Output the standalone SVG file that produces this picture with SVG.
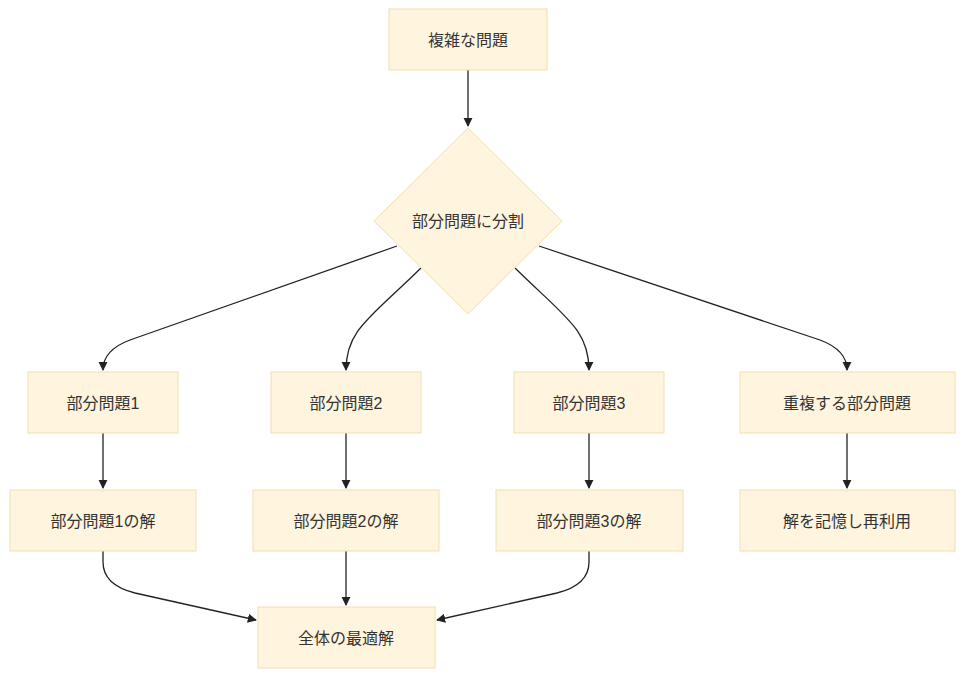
<svg xmlns="http://www.w3.org/2000/svg" width="972" height="686" viewBox="0 0 972 686">
<style>
.n{fill:#FFF4DD;stroke:#F0DFB0;stroke-width:1}
.t{font-family:"Liberation Sans","Noto Sans CJK JP",sans-serif;font-size:16px;fill:#333;text-anchor:middle;dominant-baseline:central}
.e{fill:none;stroke:#222;stroke-width:1.3;marker-end:url(#a)}
</style>
<defs><marker id="a" viewBox="0 0 10 10" refX="9" refY="5" markerWidth="7" markerHeight="7" orient="auto"><path d="M0,0L10,5L0,10z" fill="#222"/></marker></defs>
<rect width="972" height="686" fill="#fff"/>
<g id="edges">
<path class="e" d="M468,70V126"/>
<path class="e" d="M397,246L130,340Q103,350 103,370"/>
<path class="e" d="M421,268C370,318 346,330 346,370"/>
<path class="e" d="M515,268C566,318 589,330 589,370"/>
<path class="e" d="M539,246L820,340Q847,350 847,370"/>
<path class="e" d="M103,433V488"/>
<path class="e" d="M346,433V488"/>
<path class="e" d="M589,433V488"/>
<path class="e" d="M847,433V488"/>
<path class="e" d="M103,551V562Q103,585 135,593L256,620"/>
<path class="e" d="M346,551V605"/>
<path class="e" d="M589,551V562Q589,585 557,593L437,620"/>
</g>
<g id="n0"><rect class="n" x="389" y="9" width="158" height="61"/><text class="t" x="468" y="40">複雑な問題</text></g>
<g id="n1"><path class="n" d="M468,128L562,221L468,314L374,221Z"/><text class="t" x="468" y="221">部分問題に分割</text></g>
<g id="n2"><rect class="n" x="28" y="372" width="150" height="61"/><text class="t" x="103" y="403">部分問題1</text></g>
<g id="n3"><rect class="n" x="271" y="372" width="150" height="61"/><text class="t" x="346" y="403">部分問題2</text></g>
<g id="n4"><rect class="n" x="514" y="372" width="150" height="61"/><text class="t" x="589" y="403">部分問題3</text></g>
<g id="n5"><rect class="n" x="740" y="372" width="215" height="61"/><text class="t" x="847" y="403">重複する部分問題</text></g>
<g id="n6"><rect class="n" x="10" y="490" width="186" height="61"/><text class="t" x="103" y="521">部分問題1の解</text></g>
<g id="n7"><rect class="n" x="253" y="490" width="186" height="61"/><text class="t" x="346" y="521">部分問題2の解</text></g>
<g id="n8"><rect class="n" x="496" y="490" width="187" height="61"/><text class="t" x="589" y="521">部分問題3の解</text></g>
<g id="n9"><rect class="n" x="740" y="490" width="215" height="61"/><text class="t" x="847" y="521">解を記憶し再利用</text></g>
<g id="n10"><rect class="n" x="258" y="607" width="177" height="61"/><text class="t" x="346" y="638">全体の最適解</text></g>
</svg>
